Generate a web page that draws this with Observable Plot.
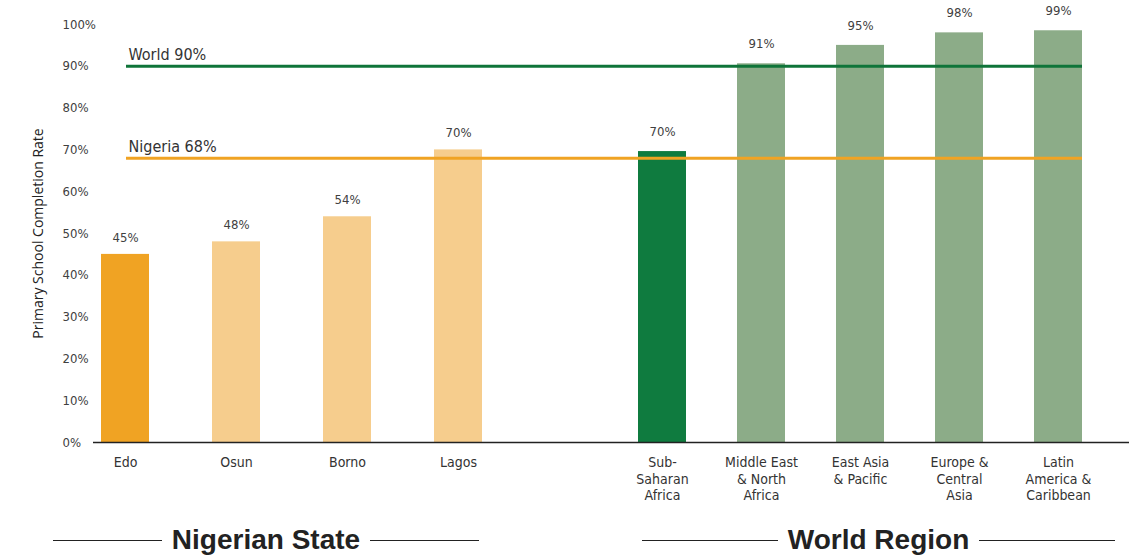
<!DOCTYPE html>
<html>
<head>
<meta charset="utf-8">
<script src="https://cdn.jsdelivr.net/npm/d3@7"></script>
<script src="https://cdn.jsdelivr.net/npm/@observablehq/plot@0.6"></script>
<style>
  body { margin: 0; background: #fff; }
  #chart { position: relative; width: 1129px; height: 556px; overflow: hidden; background: #fff; }
  #left { position: absolute; left: 0; top: 0; }
  #right { position: absolute; left: 560px; top: 0; }
  .group { position: absolute; top: 526px; height: 28px; display: flex; align-items: center; gap: 10px;
           font-family: "Liberation Sans", Arial, sans-serif; font-weight: bold; font-size: 28px; line-height: 28px; color: #222; white-space: nowrap; }
  .group .rule { flex: 1; height: 1px; background: #222; }
</style>
</head>
<body>
<div id="chart">
  <div id="left"></div>
  <div id="right"></div>
  <div class="group" style="left:53px;width:426px"><span class="rule"></span><span id="g1"></span><span class="rule"></span></div>
  <div class="group" style="left:642px;width:473px"><span class="rule"></span><span id="g2"></span><span class="rule"></span></div>
</div>
<script>
// ---- data ----
const groupTitles = ["Nigerian State", "World Region"];
const states = ["Edo", "Osun", "Borno", "Lagos"];
const stateValues = [45, 48, 54, 70];
const regions = ["Sub-Saharan Africa", "Middle East & North Africa", "East Asia & Pacific", "Europe & Central Asia", "Latin America & Caribbean"];
const regionLabels = ["Sub-\nSaharan\nAfrica", "Middle East\n& North\nAfrica", "East Asia\n& Pacific", "Europe &\nCentral\nAsia", "Latin\nAmerica &\nCaribbean"];
const regionValues = [69.6, 90.6, 95, 98, 98.5];
const refNames = ["World", "Nigeria"];
const refValues = [90, 68];
const yTicks = [0, 10, 20, 30, 40, 50, 60, 70, 80, 90, 100];
const yTitle = "Primary School Completion Rate";
const highlightState = "Edo";
const highlightRegion = "Sub-Saharan Africa";

// ---- styles ----
const ORANGE = "#F0A323", LIGHT_ORANGE = "#F6CD8D", DARK_GREEN = "#0F7B3F", SAGE = "#8CAC88", WORLD_GREEN = "#0F7439";
const NARROW = "'Liberation Sans Narrow', 'DejaVu Sans Condensed', sans-serif";
const H = 515, MT = 24, MB = 73;

const stateData = states.map((s, i) => ({name: s, value: stateValues[i]}));
const regionData = regions.map((s, i) => ({name: s, value: regionValues[i], label: regionLabels[i]}));
const refData = refNames.map((n, i) => ({name: n, value: refValues[i]}));
const refColor = d => d.name === "World" ? WORLD_GREEN : ORANGE;

document.getElementById("g1").textContent = groupTitles[0];
document.getElementById("g2").textContent = groupTitles[1];

const left = Plot.plot({
  width: 560, height: H, marginLeft: 93, marginRight: 0, marginTop: MT, marginBottom: MB,
  style: {fontFamily: NARROW, fontSize: "13px", color: "#404040", background: "transparent"},
  x: {type: "band", domain: states, range: [100, 483], paddingInner: 0.565, paddingOuter: 0, axis: null},
  y: {domain: [0, 100], axis: null},
  color: {type: "identity"},
  marks: [
    Plot.axisY(yTicks, {label: null, tickSize: 0, tickPadding: 31, textAnchor: "start", tickFormat: d => d + "%", fontSize: 13, fill: "#404040"}),
    Plot.barY(stateData, {x: "name", y: "value", fill: d => d.name === highlightState ? ORANGE : LIGHT_ORANGE}),
    Plot.ruleY(refData, {y: "value", insetLeft: 33, stroke: refColor, strokeWidth: 3}),
    Plot.text(refData, {y: "value", x: () => states[0], text: d => `${d.name} ${d.value}%`, textAnchor: "start", lineAnchor: "bottom", dx: 3, dy: -6, fontSize: 16, fill: "#333"}),
    Plot.ruleY([0], {stroke: "#222", strokeWidth: 1.5}),
    Plot.text(stateData, {x: "name", y: "value", text: d => Math.round(d.value) + "%", dy: -17, lineAnchor: "middle", fontSize: 13, fill: "#404040"}),
    Plot.text(states, {x: d => d, text: d => d, frameAnchor: "bottom", lineAnchor: "top", dy: 13, fontSize: 14, lineHeight: 1.18, fill: "#333"}),
    Plot.text([yTitle], {text: d => d, frameAnchor: "left", textAnchor: "middle", rotate: -90, dx: -55, fontFamily: "'Open Sans', sans-serif", fontSize: 14, fill: "#222"})
  ]
});
document.getElementById("left").appendChild(left);

const right = Plot.plot({
  width: 569, height: H, marginLeft: 0, marginRight: 0, marginTop: MT, marginBottom: MB,
  style: {fontFamily: NARROW, fontSize: "13px", color: "#404040", background: "transparent"},
  x: {type: "band", domain: regions, range: [78, 522], paddingInner: 0.52, paddingOuter: 0, axis: null},
  y: {domain: [0, 100], axis: null},
  color: {type: "identity"},
  marks: [
    Plot.barY(regionData, {x: "name", y: "value", fill: d => d.name === highlightRegion ? DARK_GREEN : SAGE}),
    Plot.ruleY(refData, {y: "value", insetRight: 47, stroke: refColor, strokeWidth: 3}),
    Plot.ruleY([0], {stroke: "#222", strokeWidth: 1.5}),
    Plot.text(regionData, {x: "name", y: "value", text: d => Math.round(d.value) + "%", dy: -20, lineAnchor: "middle", fontSize: 13, fill: "#404040"}),
    Plot.text(regionData, {x: "name", text: "label", frameAnchor: "bottom", lineAnchor: "top", dy: 13, fontSize: 14, lineHeight: 1.18, fill: "#333"})
  ]
});
document.getElementById("right").appendChild(right);
</script>
</body>
</html>
